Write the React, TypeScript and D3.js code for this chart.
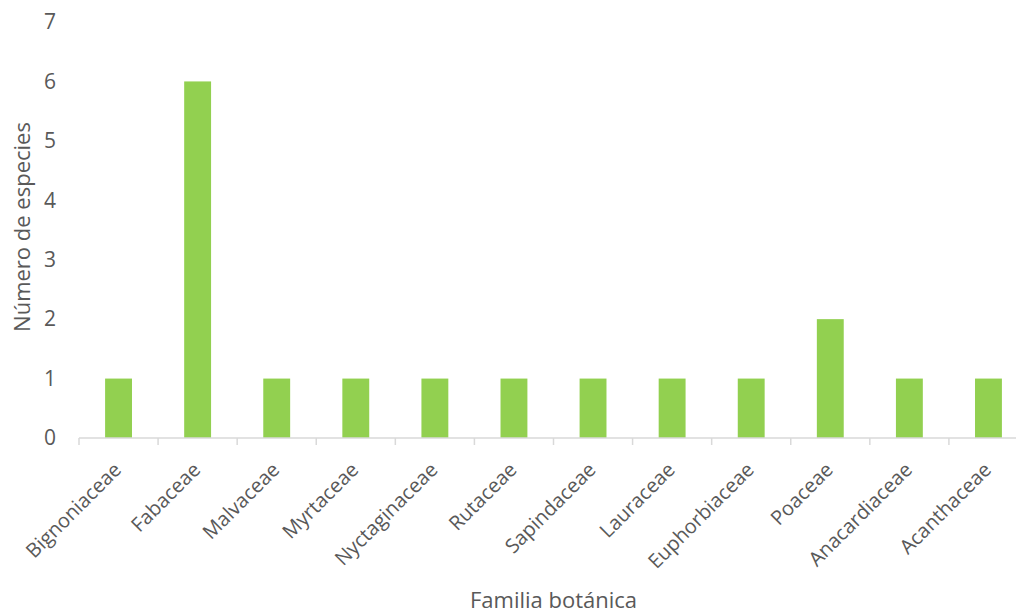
import React from "react";
import * as d3 from "d3";

const categories = ["Bignoniaceae","Fabaceae","Malvaceae","Myrtaceae","Nyctaginaceae","Rutaceae","Sapindaceae","Lauraceae","Euphorbiaceae","Poaceae","Anacardiaceae","Acanthaceae"];
const values = [1,6,1,1,1,1,1,1,1,2,1,1];
const yTicks = [0,1,2,3,4,5,6,7];

export default function App() {
  const W = 1016, H = 613;
  const left = 79, right = 1028, top = 22, bottom = 438;
  const x = d3.scaleBand<string>().domain(categories).range([left, right]).paddingInner(0.66).paddingOuter(0.33);
  const xb = d3.scaleBand<string>().domain(categories).range([left, right]);
  const y = d3.scaleLinear().domain([0, 7]).range([bottom, top]);
  const font = "'Open Sans', sans-serif";
  const color = "#595959";
  return (
    <svg width={W} height={H} style={{ position: "absolute", left: 0, top: 0 }} fontFamily={font}>
      <rect width={W} height={H} fill="#fff" />
      {categories.map((c, i) => (
        <rect key={c} x={x(c)} y={y(values[i])} width={x.bandwidth()} height={y(0) - y(values[i])} fill="#92D050" />
      ))}
      <line x1={left} x2={right} y1={y(0)} y2={y(0)} stroke="#d9d9d9" strokeWidth={1.5} />
      {categories.map((c) => (
        <line key={c} x1={xb(c)} x2={xb(c)} y1={y(0)} y2={y(0) + 7} stroke="#d9d9d9" strokeWidth={1.5} />
      ))}
      <line x1={right} x2={right} y1={y(0)} y2={y(0) + 7} stroke="#d9d9d9" strokeWidth={1.5} />
      {yTicks.map((t) => (
        <text key={t} x={56} y={y(t)} dy="0.35em" textAnchor="end" fontSize={21} fill={color}>{t}</text>
      ))}
      {categories.map((c) => {
        const cx = (xb(c) as number) + xb.bandwidth() / 2 + 4;
        const cy = y(0) + 33;
        return (
          <text key={c} transform={`translate(${cx},${cy}) rotate(-45)`} textAnchor="end" fontSize={20} fill={color}>{c}</text>
        );
      })}
      <text transform={`translate(30,227) rotate(-90)`} textAnchor="middle" fontSize={22} fill={color}>Número de especies</text>
      <text x={(left + right) / 2} y={608} textAnchor="middle" fontSize={22} fill={color}>Familia botánica</text>
    </svg>
  );
}
